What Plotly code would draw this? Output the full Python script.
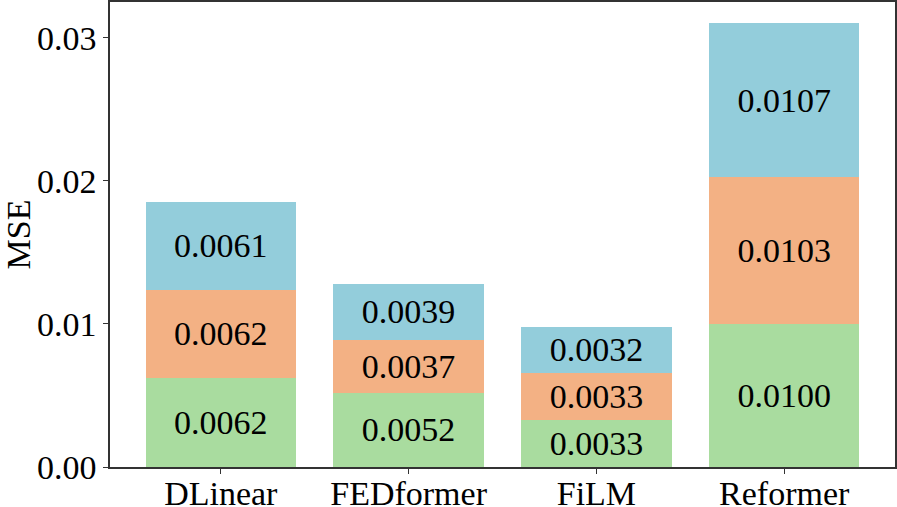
import plotly.graph_objects as go

categories = ["DLinear", "FEDformer", "FiLM", "Reformer"]
bottom_vals = [0.0062, 0.0052, 0.0033, 0.0100]
middle_vals = [0.0062, 0.0037, 0.0033, 0.0103]
top_vals = [0.0061, 0.0039, 0.0032, 0.0107]
y_ticks = [0.00, 0.01, 0.02, 0.03]
y_tick_labels = ["0.00", "0.01", "0.02", "0.03"]

colors = ["#A9DC9F", "#F3B184", "#93CDDB"]
font = "Liberation Serif"
fs = 34

fig = go.Figure()
for vals, col in zip([bottom_vals, middle_vals, top_vals], colors):
    fig.add_trace(go.Bar(
        x=categories, y=vals, marker=dict(color=col, line=dict(width=0)),
        text=[f"{v:.4f}" for v in vals], textposition="inside",
        insidetextanchor="middle", textangle=0, constraintext="none",
        textfont=dict(family=font, size=fs, color="black"),
        width=0.8, showlegend=False,
    ))

fig.update_layout(
    barmode="stack",
    width=897, height=507,
    margin=dict(l=110, r=2, t=2, b=40, autoexpand=False),
    paper_bgcolor="white", plot_bgcolor="white",
    font=dict(family=font, size=fs, color="black"),
    bargap=0.2,
)
fig.update_xaxes(
    range=[-0.59, 3.59], showline=True, linecolor="#333", linewidth=1.5, mirror=True,
    ticks="outside", ticklen=5, tickcolor="#333", showgrid=False,
    tickfont=dict(family=font, size=fs), automargin=False,
    ticklabelstandoff=-10,
)
fig.update_yaxes(
    range=[0, 0.0325], tickvals=y_ticks, ticktext=y_tick_labels,
    showline=True, linecolor="#333", linewidth=1.5, mirror=True,
    ticks="outside", ticklen=5, tickcolor="#333", showgrid=False, zeroline=False,
    title=dict(text="MSE", standoff=0, font=dict(family=font, size=fs)),
    tickfont=dict(family=font, size=fs), automargin=False,
)
fig.write_html("out.html", config={"displayModeBar": False},
               post_script="document.body.style.margin='0';")
